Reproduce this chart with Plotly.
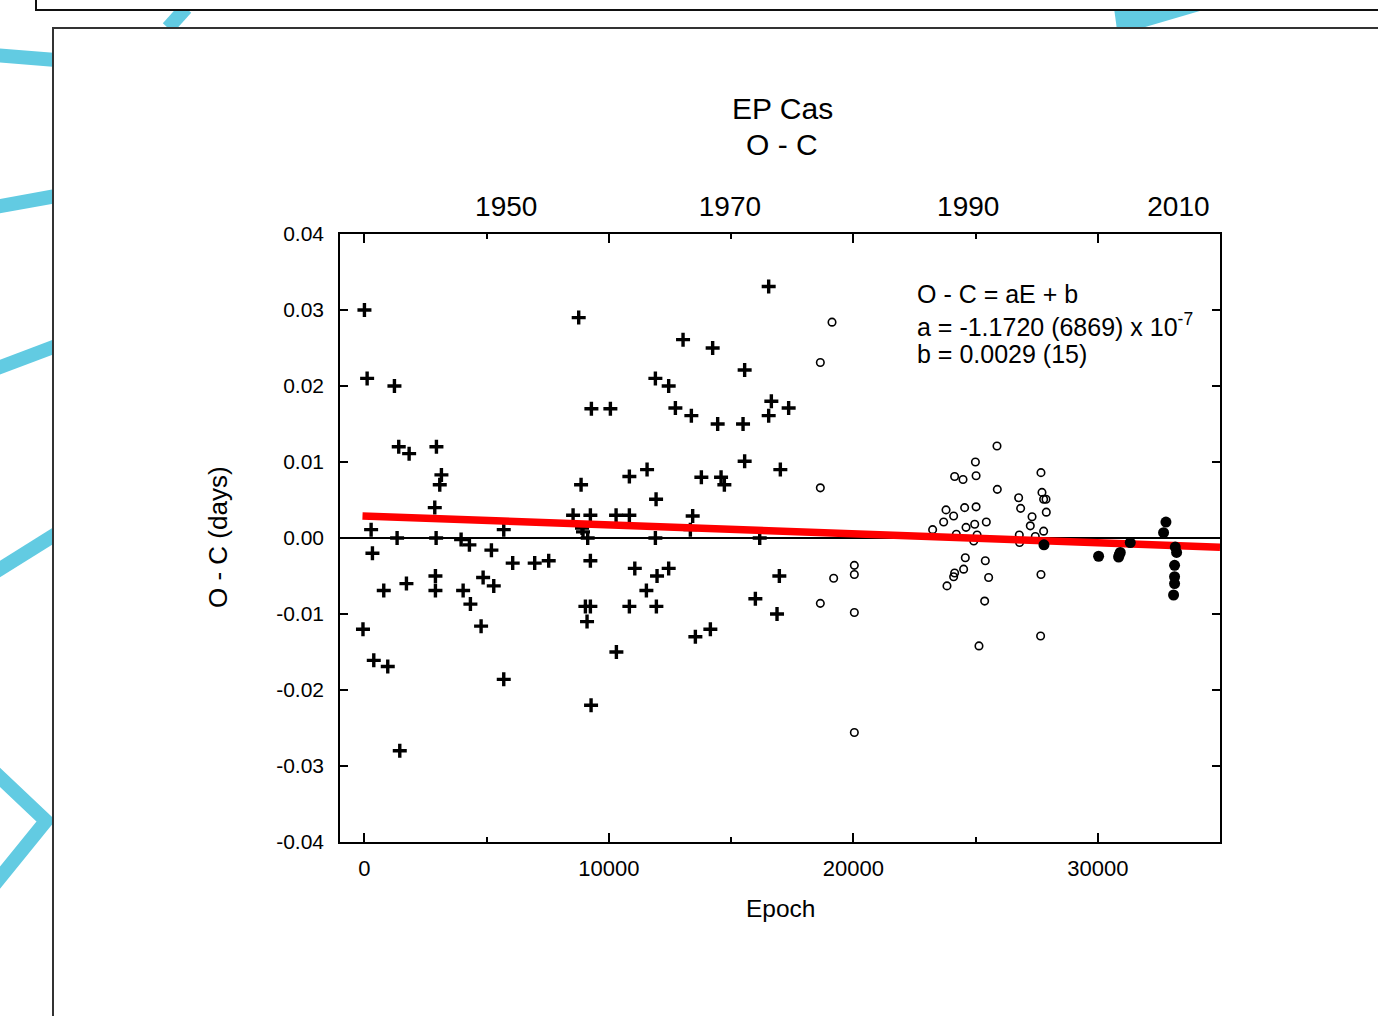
import plotly.graph_objects as go

# ---- O - C data for EP Cas (epoch, O-C in days) ----
visual_epoch = [0, 110, 1227, 1403, 1828, 2945, 3149, 3081, 2877, 273, 1336, 2932, 3954, 4294,
                327, 5194, 5699, 6065, 6965, 7538, 8765, 9284, 10061, 8862, 8535, 9243, 10294,
                10838, 10838, 8900, 8941, 9133, 9243, 11060, 790, 1718, 2904, 2904, 4037, 4335,
                4855, 5290, 4772, -60, 382, 954, 1445, 5699, 9271, 9039, 9243, 9106, 10838,
                10307, 16537, 13034, 14245, 15554, 11902, 12446, 12720, 13374, 14450, 15488,
                16537, 16646, 17354, 15554, 17014, 11562, 13783, 14589, 14724, 11930, 13428,
                13333, 11902, 16170, 12446, 11970, 11534, 11943, 13538, 14151, 15992, 16973,
                16878]
visual_oc = [0.0300, 0.0210, 0.0200, 0.0120, 0.0111, 0.0120, 0.0083, 0.0070, 0.0040, 0.0011,
             0.0000, 0.0000, -0.0002, -0.0009, -0.0020, -0.0016, 0.0011, -0.0033, -0.0033,
             -0.0030, 0.0290, 0.0170, 0.0170, 0.0070, 0.0030, 0.0030, 0.0030, 0.0030, 0.0081,
             0.0013, 0.0008, 0.0000, -0.0030, -0.0040, -0.0069, -0.0060, -0.0050, -0.0069,
             -0.0069, -0.0087, -0.0052, -0.0063, -0.0116, -0.0120, -0.0161, -0.0169, -0.0280,
             -0.0186, -0.0220, -0.0090, -0.0090, -0.0110, -0.0090, -0.0150, 0.0331, 0.0261,
             0.0250, 0.0221, 0.0210, 0.0200, 0.0171, 0.0161, 0.0150, 0.0150, 0.0161, 0.0180,
             0.0171, 0.0101, 0.0090, 0.0090, 0.0080, 0.0080, 0.0070, 0.0051, 0.0029, 0.0011,
             0.0000, 0.0000, -0.0040, -0.0050, -0.0069, -0.0090, -0.0130, -0.0120, -0.0080,
             -0.0050, -0.0100]

photo_epoch = [19128, 18650, 18650, 20041, 20041, 19195, 18650, 20041, 20041,
               23244, 23695, 23792, 24103, 24144, 24487, 24553, 24610, 24213, 24965, 25022,
               24994, 25022, 25063, 24926, 25440, 25877, 25890, 24581, 24512, 24144, 24103,
               23831, 25399, 25535, 25372, 25140, 26762, 26844, 27311, 27239, 26789, 26802,
               27444, 27676, 27717, 27785, 27882, 27894, 27785, 27676, 27661]
photo_oc = [0.0284, 0.0231, 0.0066, -0.0036, -0.0048, -0.0053, -0.0086, -0.0098, -0.0256,
            0.0011, 0.0021, 0.0037, 0.0029, 0.0081, 0.0077, 0.0040, 0.0014, 0.0005, 0.0018,
            0.0041, 0.0100, 0.0082, 0.0004, -0.0004, 0.0021, 0.0121, 0.0064, -0.0026, -0.0041,
            -0.0046, -0.0051, -0.0063, -0.0030, -0.0052, -0.0083, -0.0142, 0.0053, 0.0039,
            0.0028, 0.0016, 0.0004, -0.0006, 0.0002, 0.0086, 0.0060, 0.0051, 0.0051, 0.0034,
            0.0009, -0.0048, -0.0129]

ccd_epoch = [27799, 30034, 30852, 30920, 30880, 31329, 32789, 32692, 33170, 33224, 33142,
             33142, 33142, 33101]
ccd_oc = [-0.0009, -0.0024, -0.0025, -0.0019, -0.0022, -0.0006, 0.0021, 0.0007, -0.0012,
          -0.0019, -0.0036, -0.0051, -0.0060, -0.0075]

# linear ephemeris fit: O - C = aE + b
fit_a = -1.1720e-7
fit_b = 0.0029
fit_epoch = [-80, 35000]

# axes
x_range = [-1000, 35000]
y_range = [-0.04, 0.04]
x_ticks = [0, 10000, 20000, 30000]
x_tick_text = ["0", "10000", "20000", "30000"]
y_ticks = [0.04, 0.03, 0.02, 0.01, 0.0, -0.01, -0.02, -0.03, -0.04]
y_tick_text = ["0.04", "0.03", "0.02", "0.01", "0.00", "-0.01", "-0.02", "-0.03", "-0.04"]
year_pos = [5800, 14950, 24700, 33300]
year_text = ["1950", "1970", "1990", "2010"]

# ---- page geometry (pixels) ----
W, H = 1378, 1016
ML, MR, MT, MB = 340, 158, 234, 174
PW, PH = W - ML - MR, H - MT - MB


def px(x):
    return (x - ML) / PW


def py(y):
    return (H - MB - y) / PH


FONT = "Liberation Sans, Arial, sans-serif"
BLUE = "#62cbe2"

fig = go.Figure()

fig.add_trace(go.Scatter(
    x=visual_epoch, y=visual_oc, mode="markers",
    marker=dict(symbol="cross-thin", size=10, line=dict(width=3.4, color="black"), color="black"),
    showlegend=False, hoverinfo="skip"))

fig.add_trace(go.Scatter(
    x=photo_epoch, y=photo_oc, mode="markers",
    marker=dict(symbol="circle-open", size=7.5, line=dict(width=1.6, color="black"), color="black"),
    showlegend=False, hoverinfo="skip"))

fig.add_trace(go.Scatter(
    x=fit_epoch, y=[fit_a * e + fit_b for e in fit_epoch], mode="lines",
    line=dict(color="#ff0000", width=7.5),
    showlegend=False, hoverinfo="skip"))

fig.add_trace(go.Scatter(
    x=ccd_epoch, y=ccd_oc, mode="markers",
    marker=dict(symbol="circle", size=11, color="black"),
    showlegend=False, hoverinfo="skip"))

# invisible trace that carries the calendar-year axis on top
fig.add_trace(go.Scatter(x=year_pos, y=[0] * len(year_pos), xaxis="x2", mode="markers",
                         marker=dict(opacity=0), showlegend=False, hoverinfo="skip"))

axis_common = dict(showgrid=False, showline=True, linecolor="black", linewidth=1.5,
                   ticks="inside", tickcolor="black", tickwidth=1.5, mirror="ticks")

fig.update_layout(
    width=W, height=H,
    margin=dict(l=ML, r=MR, t=MT, b=MB, pad=0),
    paper_bgcolor="white", plot_bgcolor="rgba(0,0,0,0)",
    font=dict(family=FONT, color="black"),
    xaxis=dict(range=x_range, tickvals=x_ticks, ticktext=x_tick_text, ticklen=9,
               minor=dict(dtick=5000, tick0=0, ticklen=5, ticks="inside", tickcolor="black",
                          tickwidth=1.5),
               tickfont=dict(size=22), ticklabelstandoff=6, zeroline=False, **axis_common),
    xaxis2=dict(range=x_range, overlaying="x", side="top", tickvals=year_pos,
                ticktext=year_text, ticks="", showline=False, showgrid=False, zeroline=False,
                tickfont=dict(size=28), ticklabelstandoff=11),
    yaxis=dict(range=y_range, tickvals=y_ticks, ticktext=y_tick_text, ticklen=8,
               tickfont=dict(size=21), ticklabelstandoff=10,
               zeroline=True, zerolinecolor="black", zerolinewidth=1.5, **axis_common),
)

# background decoration: blue strokes, top card and main white panel
blue_lines = [
    (168, 28, 186, 8),
    (-5, 55, 56, 60),
    (-5, 207, 56, 196),
    (-5, 369, 56, 346),
    (-5, 572, 56, 534),
]
shapes = []
for x0, y0, x1, y1 in blue_lines:
    shapes.append(dict(type="line", xref="paper", yref="paper", layer="below",
                       x0=px(x0), y0=py(y0), x1=px(x1), y1=py(y1),
                       line=dict(color=BLUE, width=14)))
chev = [(-10, 768), (46, 821), (-10, 890)]
shapes.append(dict(type="path", xref="paper", yref="paper", layer="below",
                   path="M {} {} L {} {} L {} {}".format(px(chev[0][0]), py(chev[0][1]),
                                                        px(chev[1][0]), py(chev[1][1]),
                                                        px(chev[2][0]), py(chev[2][1])),
                   line=dict(color=BLUE, width=14)))
wedge = [(1114, 8), (1210, 8), (1135, 30), (1117, 30)]
shapes.append(dict(type="path", xref="paper", yref="paper", layer="below",
                   path="M " + " L ".join("{} {}".format(px(a), py(b)) for a, b in wedge) + " Z",
                   fillcolor=BLUE, line=dict(width=0)))
shapes.append(dict(type="rect", xref="paper", yref="paper", layer="below",
                   x0=px(36), y0=py(-20), x1=px(1420), y1=py(10),
                   fillcolor="white", line=dict(color="#111", width=2)))
shapes.append(dict(type="rect", xref="paper", yref="paper", layer="below",
                   x0=px(53), y0=py(28), x1=px(1420), y1=py(1060),
                   fillcolor="white", line=dict(color="#333", width=2)))
fig.update_layout(shapes=shapes)

annotations = [
    dict(text="EP Cas", x=px(782), y=py(108), size=30),
    dict(text="O - C", x=px(782), y=py(144), size=30),
    dict(text="Epoch", x=px(780), y=py(908), size=24.5),
]
for a in annotations:
    fig.add_annotation(text=a["text"], x=a["x"], y=a["y"], xref="paper", yref="paper",
                       showarrow=False, xanchor="center", yanchor="middle",
                       font=dict(size=a["size"], family=FONT, color="black"))

fig.add_annotation(text="O - C (days)", x=px(218), y=py(537), xref="paper", yref="paper",
                   showarrow=False, textangle=-90, xanchor="center", yanchor="middle",
                   font=dict(size=26, family=FONT, color="black"))

fit_lines = [
    ("O - C = aE + b", 294),
    ("a = -1.1720 (6869) x 10<sup>-7</sup>", 325),
    ("b = 0.0029 (15)", 354),
]
for text, ypix in fit_lines:
    fig.add_annotation(text=text, x=px(915), y=py(ypix), xref="paper", yref="paper",
                       showarrow=False, xanchor="left", yanchor="middle",
                       font=dict(size=25, family=FONT, color="black"))

fig.write_html("out.html")
